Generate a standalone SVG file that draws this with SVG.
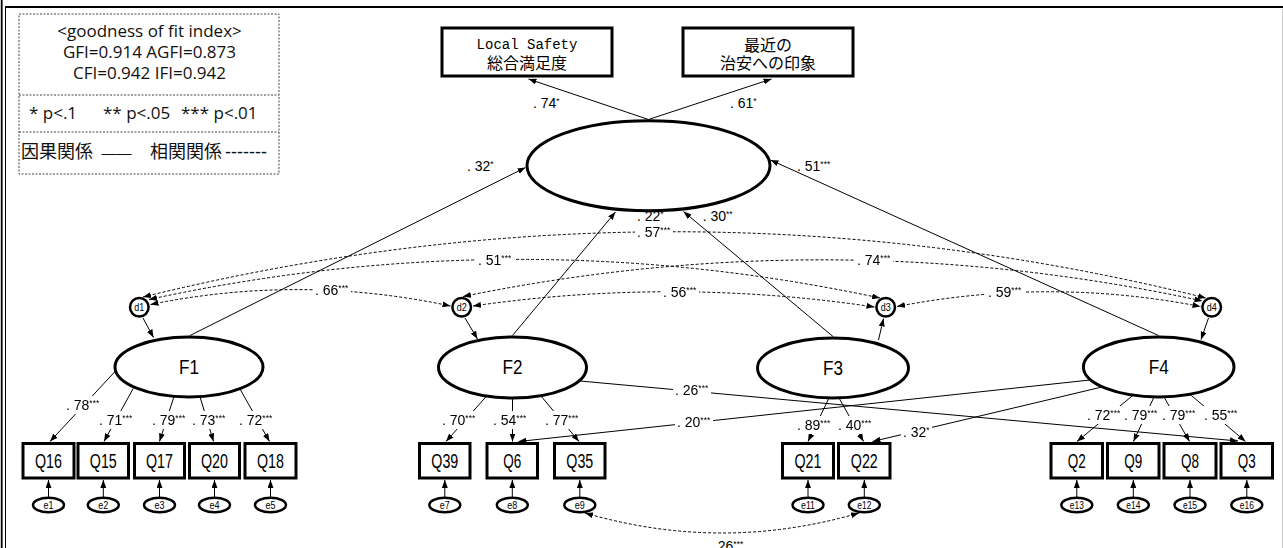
<svg xmlns="http://www.w3.org/2000/svg" width="1283" height="548" viewBox="0 0 1283 548">
<style>
.fr{stroke:#000;fill:none}
.lg{fill:none;stroke:#444;stroke-width:1;stroke-dasharray:2 1.5}
.lt{font-family:"Open Sans","Liberation Sans",sans-serif;font-size:17px;fill:#111}
.box{fill:#fff;stroke:#000;stroke-width:3}
.lat{fill:#fff;stroke:#000;stroke-width:3}
.err{fill:#fff;stroke:#000;stroke-width:2.5}
.arr{fill:none;stroke:#000;stroke-width:1;marker-end:url(#ah)}
.cov{fill:none;stroke:#000;stroke-width:1;stroke-dasharray:3 2;marker-start:url(#ah);marker-end:url(#ah)}
.lb{font-family:"Liberation Sans Narrow","Liberation Sans",Arial,sans-serif;font-size:14px;fill:#000}
.bg{filter:url(#bg)}
.st{font-size:8.5px}
.q{font-family:"Liberation Sans Narrow","Liberation Sans",Arial,sans-serif;font-size:20px;text-anchor:middle}
.f{font-family:"Liberation Sans Narrow","Liberation Sans",Arial,sans-serif;font-size:20px;text-anchor:middle}
.s{font-family:"Liberation Sans Narrow","Liberation Sans",Arial,sans-serif;font-size:11px;text-anchor:middle}
.mono{font-family:"Liberation Mono",monospace;font-size:14px;text-anchor:middle}
.bj{font-family:"Noto Sans CJK JP",sans-serif;font-size:16px;text-anchor:middle}
</style>
<defs>
<marker id="ah" viewBox="0 0 8 6" refX="8" refY="3" markerWidth="8" markerHeight="6" markerUnits="userSpaceOnUse" orient="auto-start-reverse"><path d="M0,0 L8,3 L0,6 z" fill="#000"/></marker>
<filter id="bg" x="-0.04" y="-0.05" width="1.08" height="1.1" color-interpolation-filters="sRGB"><feFlood flood-color="#fff"/><feMerge><feMergeNode/><feMergeNode in="SourceGraphic"/></feMerge></filter>
</defs>
<rect width="1283" height="548" fill="#fff"/>
<g id="frame">
<path class="fr" d="M1.7,0 V548" stroke-width="1.8"/>
<path class="fr" d="M5.5,7 V548" stroke-width="1"/>
<path class="fr" d="M5,7 H1283" stroke-width="2"/>
<path d="M1282.5,9 V548" stroke="#ccc" fill="none"/>
</g>
<g id="legend">
<rect class="lg" x="19" y="14" width="260" height="160"/>
<path class="lg" d="M19,95 H279 M19,132 H279"/>
<text class="lt" x="149.5" y="37" text-anchor="middle">&lt;goodness of fit index&gt;</text>
<text class="lt" x="149.5" y="58" text-anchor="middle">GFI=0.914 AGFI=0.873</text>
<text class="lt" x="149.5" y="79" text-anchor="middle">CFI=0.942 IFI=0.942</text>
<text class="lt" y="119"><tspan x="29">* p&lt;.1</tspan><tspan x="103">** p&lt;.05</tspan><tspan x="181">*** p&lt;.01</tspan></text>
<text class="lt" y="158"><tspan x="21" font-family="Noto Sans CJK JP,sans-serif" font-size="18">因果関係</tspan><tspan x="101.5" font-family="Liberation Sans,sans-serif" font-size="15">——</tspan><tspan x="150" font-family="Noto Sans CJK JP,sans-serif" font-size="18">相関関係</tspan><tspan x="225" font-family="Liberation Sans,sans-serif" font-size="18">-------</tspan></text>
</g>
<g id="ov1"><rect class="box" x="442" y="28" width="170" height="48"/><text class="mono" x="527" y="49">Local Safety</text><text class="bj" x="527" y="69">総合満足度</text></g>
<g id="ov2"><rect class="box" x="683" y="28" width="170" height="48"/><text class="bj" x="768" y="50.5">最近の</text><text class="bj" x="768" y="69">治安への印象</text></g>
<g id="safety"><ellipse class="lat" cx="648.5" cy="165.7" rx="121.5" ry="45"/></g>
<g id="F1"><ellipse class="lat" cx="189" cy="367" rx="74" ry="30"/><text class="f" x="189" y="374" textLength="20" lengthAdjust="spacingAndGlyphs">F1</text></g>
<g id="F2"><ellipse class="lat" cx="512.5" cy="367.5" rx="74" ry="30.5"/><text class="f" x="512.5" y="374" textLength="20" lengthAdjust="spacingAndGlyphs">F2</text></g>
<g id="F3"><ellipse class="lat" cx="833" cy="368" rx="75.5" ry="30"/><text class="f" x="833" y="374.5" textLength="20" lengthAdjust="spacingAndGlyphs">F3</text></g>
<g id="F4"><ellipse class="lat" cx="1158.7" cy="367" rx="75.3" ry="30"/><text class="f" x="1158.7" y="374" textLength="20" lengthAdjust="spacingAndGlyphs">F4</text></g>
<g id="d1"><circle class="err" cx="139.3" cy="307.3" r="9.3"/><text class="s" x="139.3" y="311.2" textLength="10" lengthAdjust="spacingAndGlyphs">d1</text></g>
<g id="d2"><circle class="err" cx="461.7" cy="307.3" r="9.3"/><text class="s" x="461.7" y="311.2" textLength="10" lengthAdjust="spacingAndGlyphs">d2</text></g>
<g id="d3"><circle class="err" cx="885.7" cy="307.3" r="9.3"/><text class="s" x="885.7" y="311.2" textLength="10" lengthAdjust="spacingAndGlyphs">d3</text></g>
<g id="d4"><circle class="err" cx="1211.7" cy="307.3" r="9.3"/><text class="s" x="1211.7" y="311.2" textLength="10" lengthAdjust="spacingAndGlyphs">d4</text></g>
<g id="Q16"><rect class="box" x="23" y="443.5" width="51" height="34.5"/><text class="q" x="48.5" y="467.5" textLength="27" lengthAdjust="spacingAndGlyphs">Q16</text></g>
<g id="Q15"><rect class="box" x="78" y="443.5" width="50.5" height="34.5"/><text class="q" x="103.3" y="467.5" textLength="27" lengthAdjust="spacingAndGlyphs">Q15</text></g>
<g id="Q17"><rect class="box" x="134.5" y="443.5" width="50" height="34.5"/><text class="q" x="159.5" y="467.5" textLength="27" lengthAdjust="spacingAndGlyphs">Q17</text></g>
<g id="Q20"><rect class="box" x="189.5" y="443.5" width="50" height="34.5"/><text class="q" x="214.5" y="467.5" textLength="27" lengthAdjust="spacingAndGlyphs">Q20</text></g>
<g id="Q18"><rect class="box" x="245" y="443.5" width="51" height="34.5"/><text class="q" x="270.5" y="467.5" textLength="27" lengthAdjust="spacingAndGlyphs">Q18</text></g>
<g id="Q39"><rect class="box" x="419.5" y="443.5" width="50.5" height="34.5"/><text class="q" x="444.8" y="467.5" textLength="27" lengthAdjust="spacingAndGlyphs">Q39</text></g>
<g id="Q6"><rect class="box" x="487" y="443.5" width="50.5" height="34.5"/><text class="q" x="512.3" y="467.5" textLength="18" lengthAdjust="spacingAndGlyphs">Q6</text></g>
<g id="Q35"><rect class="box" x="554.5" y="443.5" width="50.5" height="34.5"/><text class="q" x="579.8" y="467.5" textLength="27" lengthAdjust="spacingAndGlyphs">Q35</text></g>
<g id="Q21"><rect class="box" x="782.5" y="443.5" width="51" height="34.5"/><text class="q" x="808" y="467.5" textLength="27" lengthAdjust="spacingAndGlyphs">Q21</text></g>
<g id="Q22"><rect class="box" x="838.5" y="443.5" width="51.5" height="34.5"/><text class="q" x="864.3" y="467.5" textLength="27" lengthAdjust="spacingAndGlyphs">Q22</text></g>
<g id="Q2"><rect class="box" x="1051" y="443.5" width="51.5" height="34.5"/><text class="q" x="1076.8" y="467.5" textLength="18" lengthAdjust="spacingAndGlyphs">Q2</text></g>
<g id="Q9"><rect class="box" x="1107.5" y="443.5" width="51.5" height="34.5"/><text class="q" x="1133.3" y="467.5" textLength="18" lengthAdjust="spacingAndGlyphs">Q9</text></g>
<g id="Q8"><rect class="box" x="1164" y="443.5" width="52" height="34.5"/><text class="q" x="1190" y="467.5" textLength="18" lengthAdjust="spacingAndGlyphs">Q8</text></g>
<g id="Q3"><rect class="box" x="1221" y="443.5" width="51.5" height="34.5"/><text class="q" x="1246.8" y="467.5" textLength="18" lengthAdjust="spacingAndGlyphs">Q3</text></g>
<g id="e1"><ellipse class="err" cx="48.5" cy="505" rx="15.5" ry="7.3"/><text class="s" x="48.5" y="509" textLength="10" lengthAdjust="spacingAndGlyphs">e1</text></g>
<g id="e2"><ellipse class="err" cx="103.3" cy="505" rx="15.5" ry="7.3"/><text class="s" x="103.3" y="509" textLength="10" lengthAdjust="spacingAndGlyphs">e2</text></g>
<g id="e3"><ellipse class="err" cx="159.5" cy="505" rx="15.5" ry="7.3"/><text class="s" x="159.5" y="509" textLength="10" lengthAdjust="spacingAndGlyphs">e3</text></g>
<g id="e4"><ellipse class="err" cx="214.5" cy="505" rx="15.5" ry="7.3"/><text class="s" x="214.5" y="509" textLength="10" lengthAdjust="spacingAndGlyphs">e4</text></g>
<g id="e5"><ellipse class="err" cx="270.5" cy="505" rx="15.5" ry="7.3"/><text class="s" x="270.5" y="509" textLength="10" lengthAdjust="spacingAndGlyphs">e5</text></g>
<g id="e7"><ellipse class="err" cx="444.8" cy="505" rx="15.5" ry="7.3"/><text class="s" x="444.8" y="509" textLength="10" lengthAdjust="spacingAndGlyphs">e7</text></g>
<g id="e8"><ellipse class="err" cx="512.3" cy="505" rx="15.5" ry="7.3"/><text class="s" x="512.3" y="509" textLength="10" lengthAdjust="spacingAndGlyphs">e8</text></g>
<g id="e9"><ellipse class="err" cx="579.8" cy="505" rx="15.5" ry="7.3"/><text class="s" x="579.8" y="509" textLength="10" lengthAdjust="spacingAndGlyphs">e9</text></g>
<g id="e11"><ellipse class="err" cx="808" cy="505" rx="15.5" ry="7.3"/><text class="s" x="808" y="509" textLength="14" lengthAdjust="spacingAndGlyphs">e11</text></g>
<g id="e12"><ellipse class="err" cx="864.3" cy="505" rx="15.5" ry="7.3"/><text class="s" x="864.3" y="509" textLength="14" lengthAdjust="spacingAndGlyphs">e12</text></g>
<g id="e13"><ellipse class="err" cx="1076.8" cy="505" rx="15.5" ry="7.3"/><text class="s" x="1076.8" y="509" textLength="14" lengthAdjust="spacingAndGlyphs">e13</text></g>
<g id="e14"><ellipse class="err" cx="1133.3" cy="505" rx="15.5" ry="7.3"/><text class="s" x="1133.3" y="509" textLength="14" lengthAdjust="spacingAndGlyphs">e14</text></g>
<g id="e15"><ellipse class="err" cx="1190" cy="505" rx="15.5" ry="7.3"/><text class="s" x="1190" y="509" textLength="14" lengthAdjust="spacingAndGlyphs">e15</text></g>
<g id="e16"><ellipse class="err" cx="1246.8" cy="505" rx="15.5" ry="7.3"/><text class="s" x="1246.8" y="509" textLength="14" lengthAdjust="spacingAndGlyphs">e16</text></g>
<g id="connectors">
<path class="arr" d="M648.5,119.5 L528.5,79"/>
<path class="arr" d="M648.5,119.5 L771.5,79"/>
<path class="arr" d="M190,335.5 L525.5,167.5"/>
<path class="arr" d="M512.5,335.5 L615.5,212"/>
<path class="arr" d="M833,336.5 L683.5,211.5"/>
<path class="arr" d="M1158.5,335.5 L770.5,160"/>
<path class="arr" d="M143,318 L153.5,337.5"/>
<path class="arr" d="M465,318 L477.5,339"/>
<path class="arr" d="M878.5,340 L883.5,318.5"/>
<path class="arr" d="M1208.5,318 L1201,339.5"/>
<path class="cov" d="M150.5,304.5 Q300,274 450.5,306"/>
<path class="cov" d="M473,306 Q674,277 874.5,307"/>
<path class="cov" d="M897,306.5 Q1049,277 1200.5,306.5"/>
<path class="cov" d="M149,299.5 Q515,220 880,298"/>
<path class="cov" d="M463,296.5 Q832,221 1202.5,301"/>
<path class="cov" d="M143,297 Q675,166 1206,298"/>
<path class="cov" d="M585,513 Q722,553 859,513"/>
<path class="arr" d="M115.5,371 L50,441.5"/>
<path class="arr" d="M133.3,388.3 L104,441.5"/>
<path class="arr" d="M174,396.5 L159.5,441.5"/>
<path class="arr" d="M200,396.8 L213.5,441.5"/>
<path class="arr" d="M240,389 L269.5,441.5"/>
<path class="arr" d="M486.7,396 L446,441.5"/>
<path class="arr" d="M512.5,398.5 L512.5,441.5"/>
<path class="arr" d="M541,396 L579,441.5"/>
<path class="arr" d="M829,398 L808,441.5"/>
<path class="arr" d="M839,398 L863.5,441.5"/>
<path class="arr" d="M1132.7,395.5 L1077,441.5"/>
<path class="arr" d="M1154,397 L1133.5,441.5"/>
<path class="arr" d="M1164,397 L1189.5,441.5"/>
<path class="arr" d="M1190,394.3 L1245.5,441.5"/>
<path class="arr" d="M580,381 L1238,441"/>
<path class="arr" d="M1090,380 L518.5,441.5"/>
<path class="arr" d="M1102,387 L872.5,441.5"/>
<path class="arr" d="M48.5,497 V480"/>
<path class="arr" d="M103.3,497 V480"/>
<path class="arr" d="M159.5,497 V480"/>
<path class="arr" d="M214.5,497 V480"/>
<path class="arr" d="M270.5,497 V480"/>
<path class="arr" d="M444.8,497 V480"/>
<path class="arr" d="M512.3,497 V480"/>
<path class="arr" d="M579.8,497 V480"/>
<path class="arr" d="M808,497 V480"/>
<path class="arr" d="M864.3,497 V480"/>
<path class="arr" d="M1076.8,497 V480"/>
<path class="arr" d="M1133.3,497 V480"/>
<path class="arr" d="M1190,497 V480"/>
<path class="arr" d="M1246.8,497 V480"/>
</g>
<g id="labels" class="lb">
<text x="533" y="108">. 74<tspan class="st" dy="-4">*</tspan></text>
<text x="730" y="108">. 61<tspan class="st" dy="-4">*</tspan></text>
<text x="467" y="170.5">. 32<tspan class="st" dy="-4">*</tspan></text>
<text x="797" y="170.5">. 51<tspan class="st" dy="-4">***</tspan></text>
<text x="637" y="221">. 22<tspan class="st" dy="-4">*</tspan></text>
<text x="702.7" y="221">. 30<tspan class="st" dy="-4">**</tspan></text>
<text class="bg" x="637" y="237">. 57<tspan class="st" dy="-4">***</tspan></text>
<text class="bg" x="478" y="265">. 51<tspan class="st" dy="-4">***</tspan></text>
<text class="bg" x="857" y="265">. 74<tspan class="st" dy="-4">***</tspan></text>
<text class="bg" x="315" y="295">. 66<tspan class="st" dy="-4">***</tspan></text>
<text class="bg" x="663" y="296.5">. 56<tspan class="st" dy="-4">***</tspan></text>
<text class="bg" x="988" y="296.5">. 59<tspan class="st" dy="-4">***</tspan></text>
<text class="bg" x="66" y="410">. 78<tspan class="st" dy="-4">***</tspan></text>
<text class="bg" x="99" y="425">. 71<tspan class="st" dy="-4">***</tspan></text>
<text class="bg" x="152" y="425">. 79<tspan class="st" dy="-4">***</tspan></text>
<text class="bg" x="192" y="425">. 73<tspan class="st" dy="-4">***</tspan></text>
<text class="bg" x="239" y="425">. 72<tspan class="st" dy="-4">***</tspan></text>
<text class="bg" x="442" y="425">. 70<tspan class="st" dy="-4">***</tspan></text>
<text class="bg" x="493" y="425">. 54<tspan class="st" dy="-4">***</tspan></text>
<text class="bg" x="545" y="425">. 77<tspan class="st" dy="-4">***</tspan></text>
<text class="bg" x="797" y="430">. 89<tspan class="st" dy="-4">***</tspan></text>
<text class="bg" x="838" y="430">. 40<tspan class="st" dy="-4">***</tspan></text>
<text class="bg" x="1087" y="420">. 72<tspan class="st" dy="-4">***</tspan></text>
<text class="bg" x="1124" y="420">. 79<tspan class="st" dy="-4">***</tspan></text>
<text class="bg" x="1162" y="420">. 79<tspan class="st" dy="-4">***</tspan></text>
<text class="bg" x="1204" y="420">. 55<tspan class="st" dy="-4">***</tspan></text>
<text class="bg" x="675" y="395">. 26<tspan class="st" dy="-4">***</tspan></text>
<text class="bg" x="677" y="427">. 20<tspan class="st" dy="-4">***</tspan></text>
<text class="bg" x="903" y="436.5">. 32<tspan class="st" dy="-4">*</tspan></text>
<text x="710" y="550.5">. 26<tspan class="st" dy="-4">***</tspan></text>
</g>
</svg>
